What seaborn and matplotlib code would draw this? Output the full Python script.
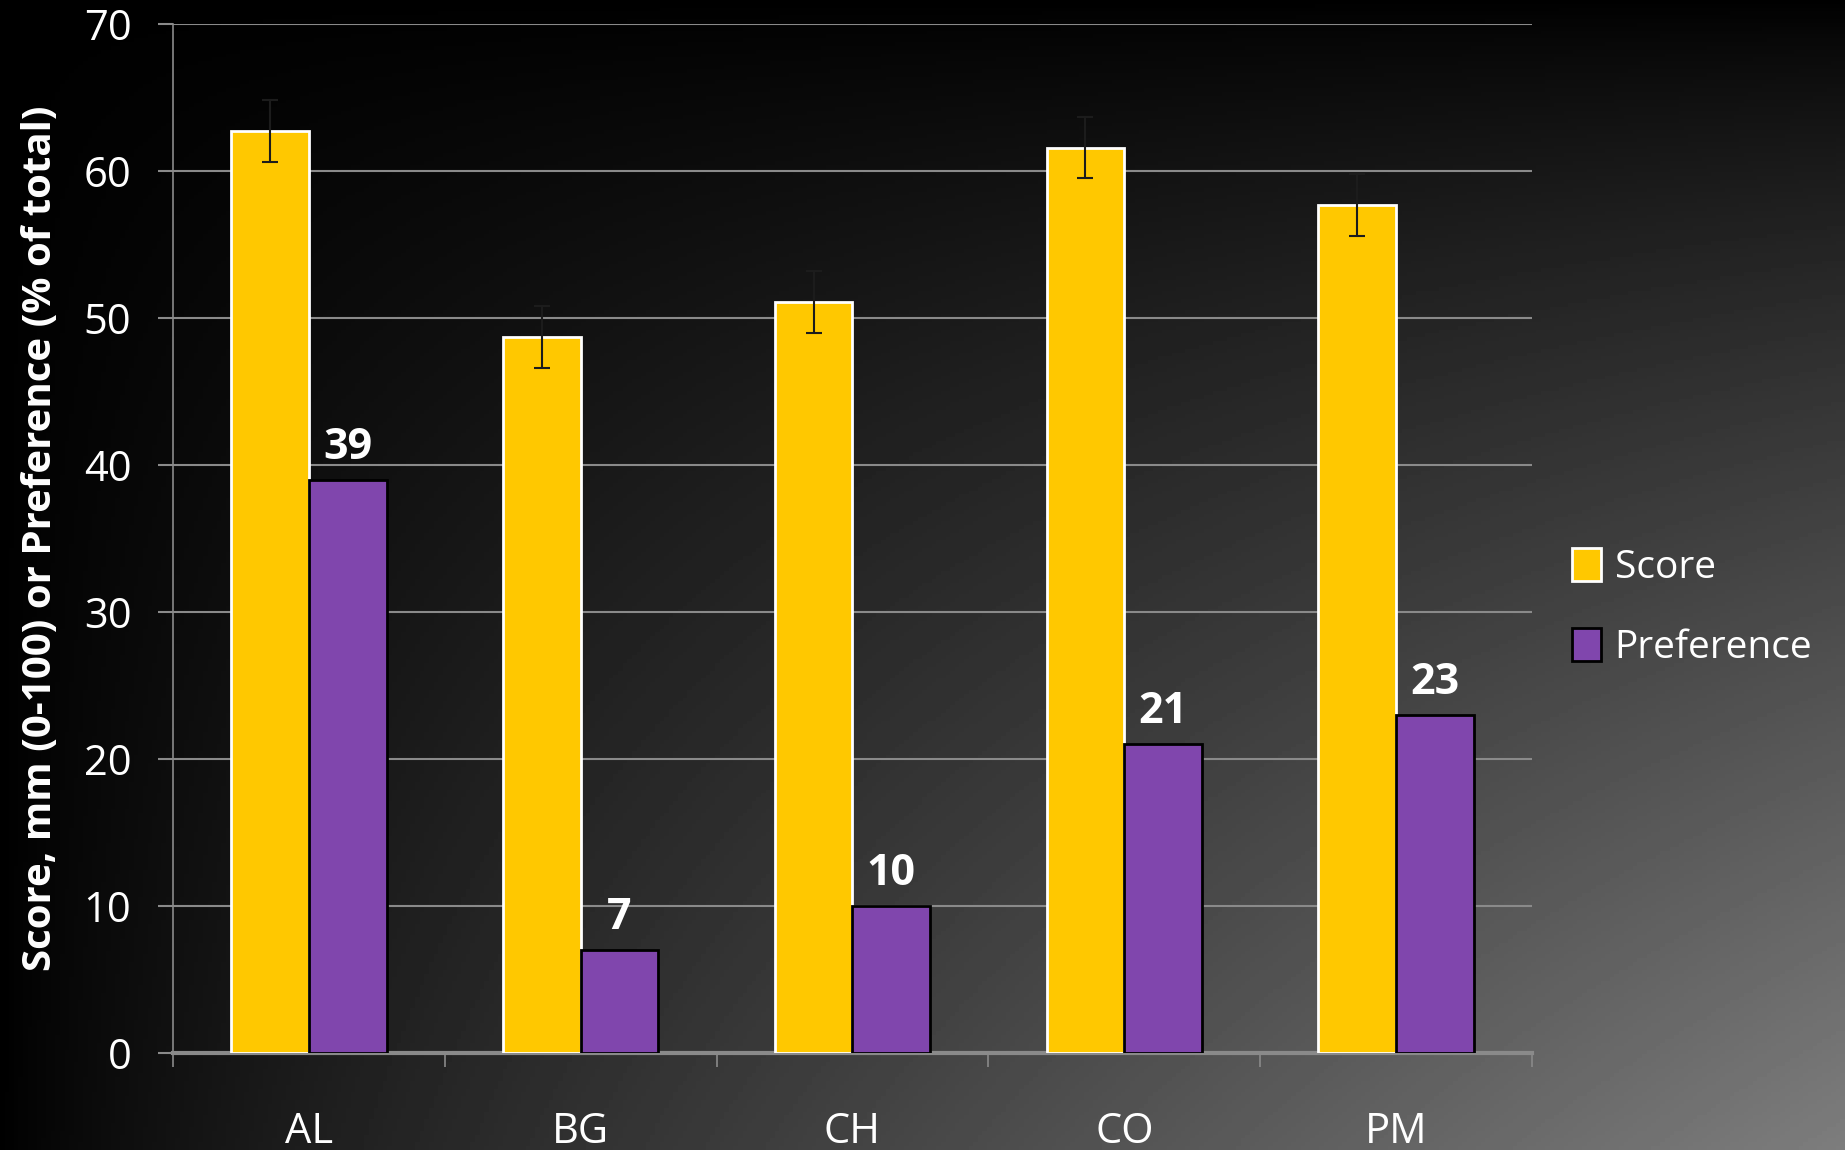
import numpy as np
import pandas as pd
import matplotlib.pyplot as plt
from matplotlib.patches import Patch
import seaborn as sns

categories = ['AL', 'BG', 'CH', 'CO', 'PM']
score = [62.7, 48.7, 51.1, 61.6, 57.7]
score_err = [2.1, 2.1, 2.1, 2.1, 2.1]
preference = [39, 7, 10, 21, 23]
series = ['Score', 'Preference']
yticks = [0, 10, 20, 30, 40, 50, 60, 70]

YELLOW = '#FFC800'
PURPLE = '#8046AD'

df = pd.DataFrame({
    'cat': categories * 2,
    'series': ['Score'] * 5 + ['Preference'] * 5,
    'value': score + preference,
})

sns.set_style('dark')
plt.rcParams['font.family'] = ['Open Sans', 'DejaVu Sans']

fig = plt.figure(figsize=(18.45, 11.5), dpi=100)

# gradient background, black top-left to grey bottom-right
bg = fig.add_axes([0, 0, 1, 1], zorder=-10)
xx, yy = np.meshgrid(np.linspace(0, 1, 400), np.linspace(0, 1, 300))
bg.imshow((xx * yy) ** 0.8 * 0.49, cmap='gray', vmin=0, vmax=1,
          aspect='auto', extent=[0, 1, 1, 0])
bg.axis('off')

ax = fig.add_axes([0.0938, 0.0843, 0.7365, 0.8948])
ax.set_facecolor('none')

sns.barplot(data=df, x='cat', y='value', hue='series', order=categories,
            hue_order=series, palette=[YELLOW, PURPLE], width=0.572,
            saturation=1, errorbar=None, legend=False, ax=ax, zorder=3)

for bar in ax.containers[0]:
    bar.set_edgecolor('white')
    bar.set_linewidth(2)
for bar in ax.containers[1]:
    bar.set_edgecolor('black')
    bar.set_linewidth(2)

# error bars on the score bars
xs = [b.get_x() + b.get_width() / 2 for b in ax.containers[0]]
ax.errorbar(xs, score, yerr=score_err, fmt='none', ecolor='#1c1c1c',
            elinewidth=1.5, capsize=6, capthick=1.5, zorder=4)

# value labels over preference bars
for b, v in zip(ax.containers[1], preference):
    ax.annotate(str(v), (b.get_x() + b.get_width() / 2, v), xytext=(0, 8),
                textcoords='offset points', ha='center', va='bottom',
                color='white', fontsize=31, fontweight='bold')

ax.set_xlim(-0.5, 4.5)
ax.set_ylim(0, 70)
ax.set_yticks(yticks)
ax.yaxis.grid(True, color='#8a8a8a', linewidth=1.5, zorder=0)
ax.xaxis.grid(False)
ax.set_axisbelow(True)

ax.set_xticks(np.arange(-0.5, 5, 1), minor=False)
ax.set_xticklabels([])
ax.set_xticks(range(5), minor=True)
ax.set_xticklabels(categories, minor=True)
ax.tick_params(axis='x', which='major', length=10, width=1.2, color='#8a8a8a',
               direction='out', bottom=True)
ax.tick_params(axis='x', which='minor', length=0, pad=42, labelsize=30,
               labelcolor='white')
ax.tick_params(axis='y', length=11, width=1.5, color='#8a8a8a', left=True,
               pad=19, labelsize=30, labelcolor='white')

for s in ['top', 'right']:
    ax.spines[s].set_visible(False)
ax.spines['left'].set_color('#8a8a8a')
ax.spines['left'].set_linewidth(1.2)
ax.spines['bottom'].set_color('#8a8a8a')
ax.spines['bottom'].set_linewidth(3)

ax.set_xlabel('')
ax.set_ylabel('Score, mm (0-100) or Preference (% of total)', color='white',
              fontsize=29, fontweight='bold', labelpad=17)

handles = [Patch(facecolor=YELLOW, edgecolor='white', linewidth=2),
           Patch(facecolor=PURPLE, edgecolor='black', linewidth=2)]
fig.legend(handles, series, loc='center left', bbox_to_anchor=(0.833, 0.472),
           frameon=False, fontsize=28, labelcolor='white',
           handlelength=0.75, handleheight=0.95, handletextpad=0.35,
           labelspacing=1.05)

fig.savefig('out.png', dpi=100)
